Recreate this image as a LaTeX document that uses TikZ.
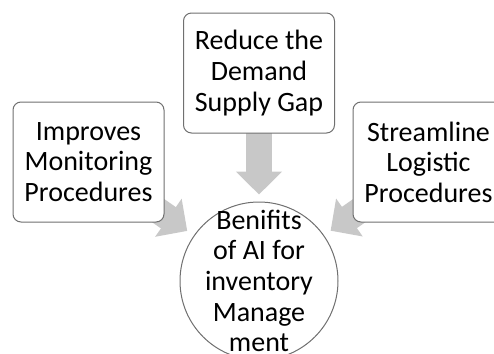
\documentclass[tikz,border=0pt]{standalone}
\usepackage{fontspec}
\setmainfont{Carlito}
\usetikzlibrary{arrows.meta, backgrounds}
\definecolor{flecha}{RGB}{200,200,200}
\definecolor{borde}{RGB}{112,112,112}

\begin{document}
\begin{tikzpicture}[x=0.5pt, y=-0.5pt,
    caja/.style={draw=borde, line width=0.5pt, rounded corners=4pt, fill=white,
        minimum width=75.5pt, minimum height=60pt, inner sep=0pt, align=center,
        font=\fontsize{14}{15.3}\selectfont},
    centro/.style={circle, draw=borde, line width=0.5pt, fill=white,
        minimum size=79pt, inner sep=0pt},
    texto/.style={inner sep=0pt, align=center, font=\fontsize{14}{15.3}\selectfont},
    flechagorda/.style={draw=flecha, line width=13pt,
        -{Triangle[length=11.5pt, width=22.5pt]}}]
    % Marco de la figura
    \useasboundingbox (0,0) rectangle (494,354);
    \clip (0,0) rectangle (494,354);
    % Cajas
    \node[caja] (reduce) at (259,73) {Reduce the\\Demand\\Supply Gap};
    \node[caja] (monitor) at (88.5,162) {Improves\\Monitoring\\Procedures};
    \node[caja] (logistic) at (428.5,162) {Streamline\\Logistic\\Procedures};
    % Circulo central
    \node[centro] (hub) at (259,281) {};
    \node[texto] (hubtext) at (hub.center) {Benifits\\of AI for\\inventory\\Manage\\ment};
    % Flechas por detras
    \begin{scope}[on background layer]
        \draw[flechagorda, shorten >=3.5pt] (reduce.center) -- (hub);
        \draw[flechagorda, shorten >=4pt] (monitor.center) -- (hub);
        \draw[flechagorda, shorten >=4pt] (logistic.center) -- (hub);
    \end{scope}
\end{tikzpicture}
\end{document}
